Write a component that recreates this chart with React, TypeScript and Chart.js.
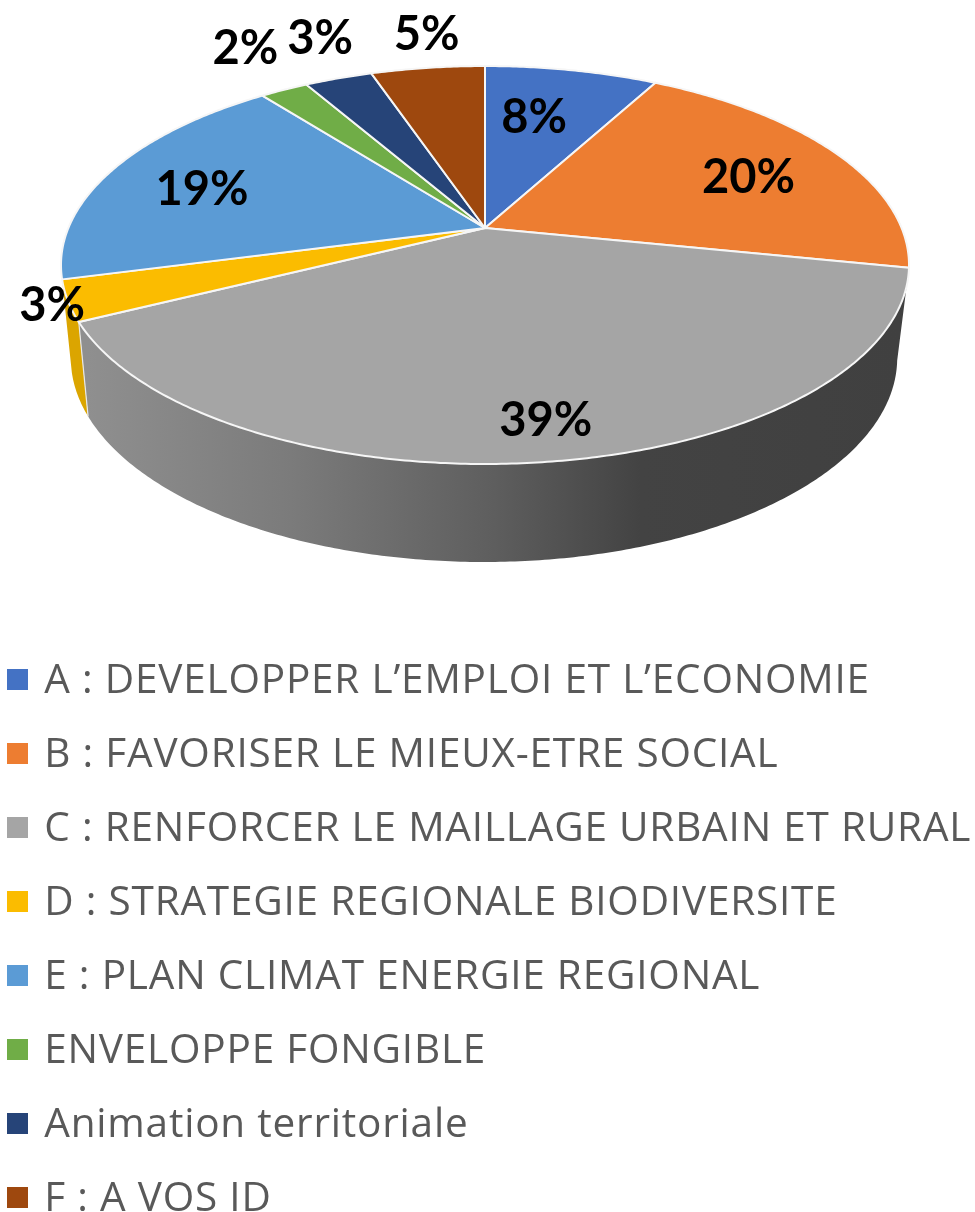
import React, { useEffect, useRef } from "react";
import { Chart, registerables } from "chart.js";

Chart.register(...registerables);

const categories = [
  "A : DEVELOPPER L’EMPLOI ET L’ECONOMIE",
  "B : FAVORISER LE MIEUX-ETRE SOCIAL",
  "C : RENFORCER LE MAILLAGE URBAIN ET RURAL",
  "D : STRATEGIE REGIONALE BIODIVERSITE",
  "E : PLAN CLIMAT ENERGIE REGIONAL",
  "ENVELOPPE FONGIBLE",
  "Animation territoriale",
  "F : A VOS ID",
];
const shares = [7.9, 20.3, 39.4, 3.3, 18.6, 2.2, 3.1, 5.2];
const colours = ["#4472c4", "#ed7d31", "#a5a5a5", "#fbbc00", "#5b9bd5", "#70ad47", "#264478", "#9e480e"];

// label placement: radius factor and angle tweak (degrees) around each slice's middle
const labelRadius = [0.667, 0.725, 0.848, 1.035, 0.739, 1.341, 1.313, 1.264];
const labelTweak = [-2.8, 1.8, -0.8, 0, -1.7, 2.5, 2.6, 1.5];

// perspective of the disc: top face and bottom rim
const K = -0.186;
const TOP = { cx: 485, cy: 228, R: 416.6, A: 192.1 };
const BOTTOM = { cx: 484, cy: 320, R: 406, A: 197 };

const LEGEND_SPACING = "0.8px";

type Face = { cx: number; cy: number; R: number; A: number };
const project = (f: Face, a: number, r = 1) => {
  const u = r * Math.sin(a);
  const v = -r * Math.cos(a);
  const w = 1 + K * v;
  return { x: f.cx + (f.R * u) / w, y: f.cy + (f.A * v) / w };
};
const rimPoints = (f: Face, a0: number, a1: number) => {
  const n = Math.max(2, Math.ceil(Math.abs(a1 - a0) / 0.01));
  const pts = [];
  for (let i = 0; i <= n; i++) pts.push(project(f, a0 + ((a1 - a0) * i) / n));
  return pts;
};

// legend swatch: a 21px square, with clear rows below it to sit level with the caps of the text
const makeSwatch = (colour: string) => {
  const c = document.createElement("canvas");
  c.width = 21;
  c.height = 25;
  const g = c.getContext("2d") as CanvasRenderingContext2D;
  g.fillStyle = colour;
  g.fillRect(0, 0, 21, 21);
  return c;
};

const discPlugin = {
  id: "disc",
  beforeUpdate(chart: any) {
    chart.ctx.letterSpacing = LEGEND_SPACING;
  },
  beforeDraw(chart: any) {
    chart.ctx.letterSpacing = LEGEND_SPACING;
  },
  beforeDatasetsDraw(chart: any) {
    const ctx: CanvasRenderingContext2D = chart.ctx;
    const arcs = chart.getDatasetMeta(0).data;
    const angles = arcs.map((arc: any) => {
      const p = arc.getProps(["startAngle", "endAngle"], true);
      return [p.startAngle + Math.PI / 2, p.endAngle + Math.PI / 2];
    });

    const wallGrad = ctx.createLinearGradient(88, 0, 900, 0);
    wallGrad.addColorStop(0, "#8f8f8f");
    wallGrad.addColorStop(0.25, "#7b7b7b");
    wallGrad.addColorStop(0.5, "#5e5e5e");
    wallGrad.addColorStop(0.68, "#434343");
    wallGrad.addColorStop(1, "#404040");
    const wallFills: Record<number, any> = { 2: wallGrad, 3: "#dba500" };

    ctx.save();
    (ctx as any).letterSpacing = "0px";
    ctx.lineJoin = "round";
    Object.keys(wallFills).forEach((key) => {
      const i = Number(key);
      const [a0, a1] = angles[i];
      const top = rimPoints(TOP, a0, a1);
      const bottom = rimPoints(BOTTOM, a1, a0);
      ctx.beginPath();
      [...top, ...bottom].forEach((p, j) => (j ? ctx.lineTo(p.x, p.y) : ctx.moveTo(p.x, p.y)));
      ctx.closePath();
      ctx.fillStyle = wallFills[i];
      ctx.fill();
    });
    // seam between the two walls
    const seamA = angles[2][1];
    const s0 = project(TOP, seamA);
    const s1 = project(BOTTOM, seamA);
    ctx.strokeStyle = "#e8e8e8";
    ctx.lineWidth = 1.2;
    ctx.beginPath();
    ctx.moveTo(s0.x, s0.y);
    ctx.lineTo(s1.x, s1.y);
    ctx.stroke();

    angles.forEach(([a0, a1]: number[], i: number) => {
      ctx.beginPath();
      ctx.moveTo(TOP.cx, TOP.cy);
      rimPoints(TOP, a0, a1).forEach((p) => ctx.lineTo(p.x, p.y));
      ctx.closePath();
      ctx.fillStyle = colours[i];
      ctx.fill();
      ctx.strokeStyle = "#f6f6f6";
      ctx.lineWidth = 2;
      ctx.stroke();
    });

    ctx.fillStyle = "#000000";
    ctx.font = "bold 47px Lato";
    ctx.textAlign = "center";
    ctx.textBaseline = "middle";
    const total = shares.reduce((s, v) => s + v, 0);
    angles.forEach(([a0, a1]: number[], i: number) => {
      const mid = (a0 + a1) / 2 + (labelTweak[i] * Math.PI) / 180;
      const p = project(TOP, mid, labelRadius[i]);
      ctx.fillText(Math.round((shares[i] / total) * 100) + "%", p.x, p.y + 2);
    });
    ctx.restore();
    return false;
  },
};

export default function App() {
  const ref = useRef<HTMLCanvasElement>(null);
  useEffect(() => {
    const baseLabels = (Chart as any).overrides.pie.plugins.legend.labels.generateLabels;
    const chart = new Chart(ref.current as HTMLCanvasElement, {
      type: "pie",
      data: {
        labels: categories,
        datasets: [{ data: shares, backgroundColor: colours, borderWidth: 0 }],
      },
      options: {
        animation: false,
        responsive: false,
        layout: { padding: { top: 627.75, left: -22.5, right: 0, bottom: 0 } },
        plugins: {
          tooltip: { enabled: false },
          legend: {
            position: "left",
            align: "start",
            maxWidth: 1200,
            labels: {
              usePointStyle: true,
              boxWidth: 13,
              boxHeight: 13,
              padding: 33.5,
              color: "#595959",
              font: { family: "Open Sans", size: 40.5 },
              generateLabels: (c: any) =>
                baseLabels(c).map((item: any) => ({
                  ...item,
                  pointStyle: makeSwatch(item.fillStyle),
                  lineWidth: 0,
                })),
            },
          },
        },
      },
      plugins: [discPlugin],
    } as any);
    return () => chart.destroy();
  }, []);
  return (
    <div style={{ width: 975, height: 1212, overflow: "hidden", position: "fixed", left: 0, top: 0, background: "#fff" }}>
      <canvas ref={ref} width={975} height={1262} style={{ display: "block" }} />
    </div>
  );
}
